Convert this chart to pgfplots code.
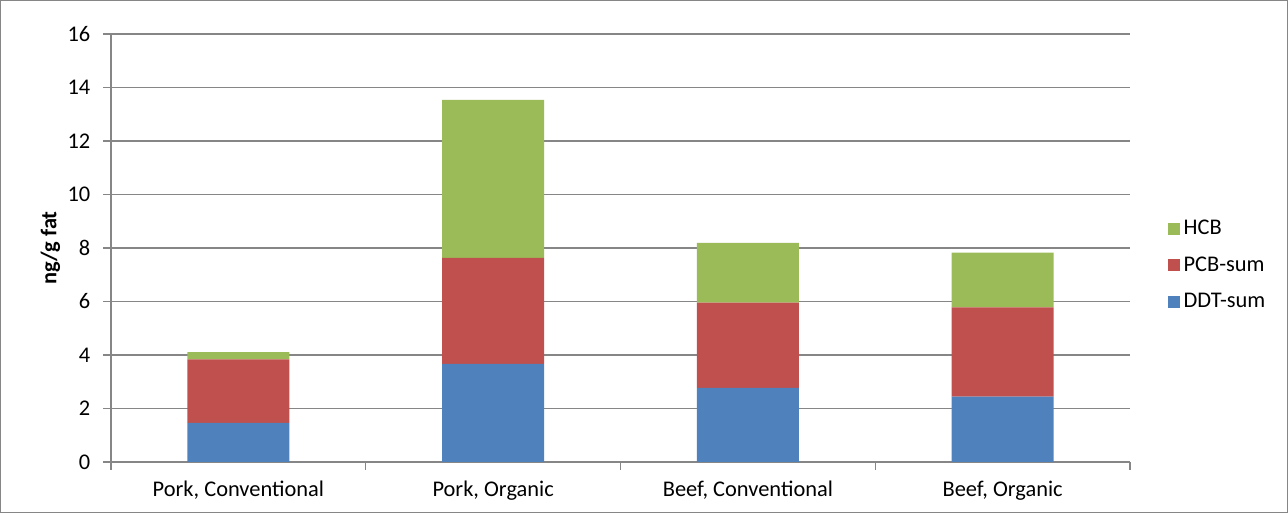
\documentclass[border=0pt]{standalone}
\usepackage{fontspec}
\setmainfont{Carlito}
\usepackage{pgfplots}
\pgfplotsset{compat=1.18}
\definecolor{cBlue}{RGB}{79,129,189}
\definecolor{cRed}{RGB}{192,80,77}
\definecolor{cGreen}{RGB}{155,187,89}
\definecolor{cGrid}{RGB}{134,134,134}
\begin{document}
\begin{tikzpicture}[x=1pt,y=1pt]
\useasboundingbox (0,0) rectangle (966,384.75);
\draw[cGrid, line width=0.75pt] (0.375,0.375) rectangle (965.625,384.375);
\begin{axis}[
  at={(83.25pt,38.25pt)}, anchor=south west,
  scale only axis, width=764.25pt, height=321pt,
  ybar stacked, bar width=0.4,
  xmin=-0.5, xmax=3.5, ymin=0, ymax=16,
  xtick={0,1,2,3},
  xticklabels={{Pork, Conventional},{Pork, Organic},{Beef, Conventional},{Beef, Organic}},
  minor xtick={-0.5,0.5,1.5,2.5,3.5},
  ytick={0,2,...,16},
  tick align=outside,
  major tick length=6pt, minor tick length=6pt,
  major x tick style={draw=none},
  minor x tick style={draw=cGrid, line width=1pt},
  ytick style={cGrid, line width=1pt},
  axis x line*=bottom, axis y line*=left,
  axis line style={-, cGrid, line width=1pt},
  ymajorgrids, major grid style={cGrid, line width=1pt},
  /pgf/number format/assume math mode=true,
  ticklabel style={font=\fontsize{16.8}{19}\selectfont, text=black},
  xticklabel style={yshift=-5pt},
  yticklabel style={xshift=-6pt},
  ylabel={\textbf{ng/g fat}},
  ylabel style={at={(axis description cs:-0.0595,0.5)}, anchor=center, rotate=0, font=\fontsize{16.8}{19}\selectfont},
  reverse legend,
  legend cell align=left,
  legend style={draw=none, fill=none, at={(rel axis cs:1.033,0.46)}, anchor=west,
    font=\fontsize{16.8}{19}\selectfont, row sep=11pt, nodes={inner xsep=3pt}},
  legend image code/.code={\fill[#1] (0pt,-4.4pt) rectangle (8.8pt,4.4pt);},
]
\addplot[fill=cBlue, draw=none] coordinates {(0,1.46) (1,3.67) (2,2.77) (3,2.44)};
\addplot[fill=cRed, draw=none] coordinates {(0,2.38) (1,3.96) (2,3.19) (3,3.34)};
\addplot[fill=cGreen, draw=none] coordinates {(0,0.27) (1,5.91) (2,2.23) (3,2.05)};
\legend{DDT-sum, PCB-sum, HCB}
\end{axis}
\end{tikzpicture}
\end{document}
